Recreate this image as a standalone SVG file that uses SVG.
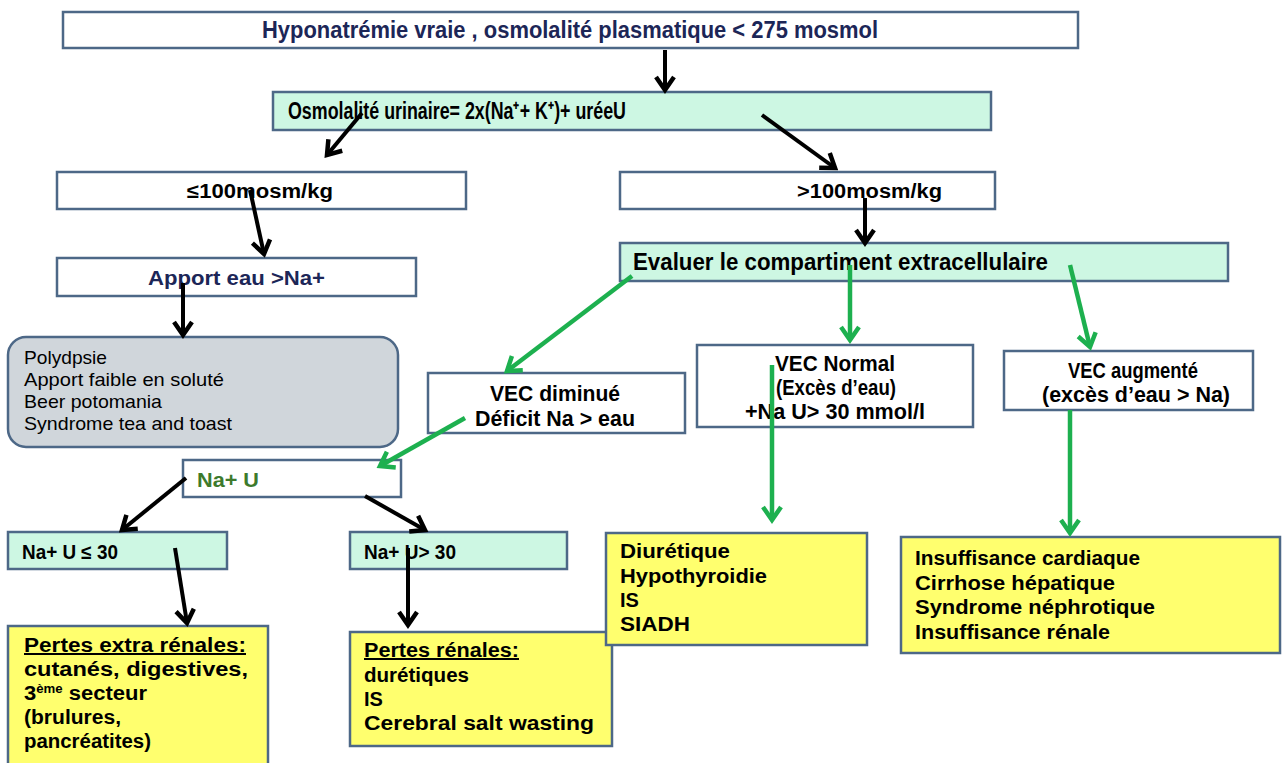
<svg xmlns="http://www.w3.org/2000/svg" width="1288" height="763" viewBox="0 0 1288 763">
<defs>
<style>
.box{stroke:#4d6887;stroke-width:2.5}
.w{fill:#ffffff}
.g{fill:#cdf7e3}
.y{fill:#ffff6e}
.gr{fill:#d0d6db}
text{font-family:"Liberation Sans",Arial,sans-serif;font-size:20px;font-weight:bold;fill:#000}
.nar{font-size:23px}
.nar2{font-size:22px}
.navy{fill:#1c2657}
.reg{font-weight:normal;font-size:19px}
.grn{fill:#3d7a2c}
.k{stroke:#000;stroke-width:4;fill:none}
.gl{stroke:#1db04f;stroke-width:4.5;fill:none}
</style>
<marker id="ak" markerUnits="userSpaceOnUse" viewBox="-2 -2 20 24" markerWidth="20" markerHeight="24" refX="14" refY="10" orient="auto">
<path d="M1,1 L14,10 L1,19" fill="none" stroke="#000" stroke-width="4.5" stroke-linejoin="miter"/>
</marker>
<marker id="ag" markerUnits="userSpaceOnUse" viewBox="-2 -2 20 24" markerWidth="20" markerHeight="24" refX="14" refY="10" orient="auto">
<path d="M1,1 L14,10 L1,19" fill="none" stroke="#1db04f" stroke-width="4.5" stroke-linejoin="miter"/>
</marker>
</defs>
<rect width="1288" height="763" fill="#ffffff"/>

<g id="n-top"><rect class="box w" x="63" y="12" width="1015" height="36"/>
<text class="navy nar" x="262" y="38" textLength="616" lengthAdjust="spacingAndGlyphs">Hyponatrémie vraie , osmolalité plasmatique &lt; 275 mosmol</text></g>

<g id="n-osmu"><rect class="box g" x="273" y="92" width="718" height="38"/>
<text class="nar" x="288" y="119" textLength="338" lengthAdjust="spacingAndGlyphs">Osmolalité urinaire= 2x(Na⁺+ K⁺)+ uréeU</text></g>

<g id="n-le100"><rect class="box w" x="57" y="172" width="409" height="37"/>
<text x="187" y="198" textLength="146" lengthAdjust="spacingAndGlyphs">≤100mosm/kg</text></g>

<g id="n-gt100"><rect class="box w" x="620" y="172" width="375" height="37"/>
<text x="797" y="198" textLength="145" lengthAdjust="spacingAndGlyphs">&gt;100mosm/kg</text></g>

<g id="n-eval"><rect class="box g" x="620" y="243" width="608" height="38"/>
<text class="nar" x="633" y="270" textLength="415" lengthAdjust="spacingAndGlyphs">Evaluer le compartiment extracellulaire</text></g>

<g id="n-apport"><rect class="box w" x="57" y="258" width="359" height="38"/>
<text class="navy" x="148" y="285" font-size="21" textLength="177" lengthAdjust="spacingAndGlyphs">Apport eau &gt;Na+</text></g>

<g id="n-poly"><rect class="box gr" x="8" y="337" width="390" height="110" rx="18" ry="18"/>
<text class="reg" x="24" y="364" textLength="83" lengthAdjust="spacingAndGlyphs">Polydpsie</text>
<text class="reg" x="24" y="386" textLength="200" lengthAdjust="spacingAndGlyphs">Apport faible en soluté</text>
<text class="reg" x="24" y="408" textLength="138" lengthAdjust="spacingAndGlyphs">Beer potomania</text>
<text class="reg" x="24" y="430" textLength="208" lengthAdjust="spacingAndGlyphs">Syndrome tea and toast</text></g>

<g id="n-vecdim"><rect class="box w" x="428" y="373" width="257" height="60"/>
<text class="nar2" x="490" y="401" textLength="130" lengthAdjust="spacingAndGlyphs">VEC diminué</text>
<text class="nar2" x="475" y="426" textLength="160" lengthAdjust="spacingAndGlyphs">Déficit Na &gt; eau</text></g>

<g id="n-vecnorm"><rect class="box w" x="697" y="345" width="276" height="82"/>
<text class="nar2" x="775" y="371" textLength="120" lengthAdjust="spacingAndGlyphs">VEC Normal</text>
<text class="nar2" x="776" y="395" textLength="120" lengthAdjust="spacingAndGlyphs">(Excès d’eau)</text>
<text class="nar2" x="745" y="419" textLength="180" lengthAdjust="spacingAndGlyphs">+Na U&gt; 30 mmol/l</text></g>

<g id="n-vecaug"><rect class="box w" x="1004" y="351" width="249" height="59"/>
<text class="nar2" x="1068" y="378" textLength="130" lengthAdjust="spacingAndGlyphs">VEC augmenté</text>
<text class="nar2" x="1042" y="402" textLength="188" lengthAdjust="spacingAndGlyphs">(excès d’eau &gt; Na)</text></g>

<g id="n-nau"><rect class="box w" x="183" y="460" width="218" height="37"/>
<text class="grn" x="197" y="487" font-size="22" textLength="62" lengthAdjust="spacingAndGlyphs">Na+ U</text></g>

<g id="n-nale30"><rect class="box g" x="8" y="532" width="219" height="37"/>
<text x="22" y="559" font-size="22" textLength="96" lengthAdjust="spacingAndGlyphs">Na+ U ≤ 30</text></g>

<g id="n-nagt30"><rect class="box g" x="350" y="532" width="217" height="37"/>
<text x="364" y="559" font-size="22" textLength="92" lengthAdjust="spacingAndGlyphs">Na+ U&gt; 30</text></g>

<g id="n-extra"><rect class="box y" x="8" y="626" width="260" height="145"/>
<text x="24" y="652" textLength="222" lengthAdjust="spacingAndGlyphs" text-decoration="underline">Pertes extra rénales:</text>
<text x="24" y="676" textLength="224" lengthAdjust="spacingAndGlyphs">cutanés, digestives,</text>
<text x="24" y="700" textLength="123" lengthAdjust="spacingAndGlyphs">3<tspan font-size="12" baseline-shift="7">ème</tspan> secteur</text>
<text x="24" y="724" textLength="97" lengthAdjust="spacingAndGlyphs">(brulures,</text>
<text x="24" y="748" textLength="127" lengthAdjust="spacingAndGlyphs">pancréatites)</text></g>

<g id="n-renal"><rect class="box y" x="350" y="632" width="262" height="114"/>
<text x="364" y="657" textLength="155" lengthAdjust="spacingAndGlyphs" text-decoration="underline">Pertes rénales:</text>
<text x="364" y="682" textLength="105" lengthAdjust="spacingAndGlyphs">durétiques</text>
<text x="364" y="706">IS</text>
<text x="364" y="730" textLength="230" lengthAdjust="spacingAndGlyphs">Cerebral salt wasting</text></g>

<g id="n-diur"><rect class="box y" x="606" y="533" width="261" height="112"/>
<text x="620" y="558" textLength="110" lengthAdjust="spacingAndGlyphs">Diurétique</text>
<text x="620" y="583" textLength="147" lengthAdjust="spacingAndGlyphs">Hypothyroidie</text>
<text x="620" y="607">IS</text>
<text x="620" y="631" textLength="70" lengthAdjust="spacingAndGlyphs">SIADH</text></g>

<g id="n-insuf"><rect class="box y" x="901" y="537" width="379" height="116"/>
<text x="915" y="565" font-size="21" textLength="225" lengthAdjust="spacingAndGlyphs">Insuffisance cardiaque</text>
<text x="915" y="590" font-size="21" textLength="200" lengthAdjust="spacingAndGlyphs">Cirrhose hépatique</text>
<text x="915" y="614" font-size="21" textLength="240" lengthAdjust="spacingAndGlyphs">Syndrome néphrotique</text>
<text x="915" y="639" font-size="21" textLength="195" lengthAdjust="spacingAndGlyphs">Insuffisance rénale</text></g>

<g id="connectors">
<line class="k" marker-end="url(#ak)" x1="665" y1="50" x2="665" y2="90"/>
<line class="k" marker-end="url(#ak)" x1="362" y1="113" x2="327" y2="155"/>
<line class="k" marker-end="url(#ak)" x1="762" y1="115" x2="835" y2="168"/>
<line class="k" marker-end="url(#ak)" x1="250" y1="190" x2="264" y2="254"/>
<line class="k" marker-end="url(#ak)" x1="865" y1="198" x2="865" y2="243"/>
<line class="k" marker-end="url(#ak)" x1="183" y1="283" x2="183" y2="335"/>
<line class="k" marker-end="url(#ak)" x1="186" y1="478" x2="122" y2="530"/>
<line class="k" marker-end="url(#ak)" x1="365" y1="496" x2="425" y2="530"/>
<line class="k" marker-end="url(#ak)" x1="175" y1="548" x2="187" y2="623"/>
<line class="k" marker-end="url(#ak)" x1="408" y1="548" x2="408" y2="625"/>
<line class="gl" marker-end="url(#ag)" x1="632" y1="276" x2="507" y2="371"/>
<line class="gl" marker-end="url(#ag)" x1="850" y1="265" x2="850" y2="340"/>
<line class="gl" marker-end="url(#ag)" x1="1070" y1="265" x2="1090" y2="347"/>
<line class="gl" marker-end="url(#ag)" x1="465" y1="418" x2="380" y2="466"/>
<line class="gl" marker-end="url(#ag)" x1="772" y1="365" x2="772" y2="520"/>
<line class="gl" marker-end="url(#ag)" x1="1070" y1="410" x2="1070" y2="533"/>
</g>
</svg>
